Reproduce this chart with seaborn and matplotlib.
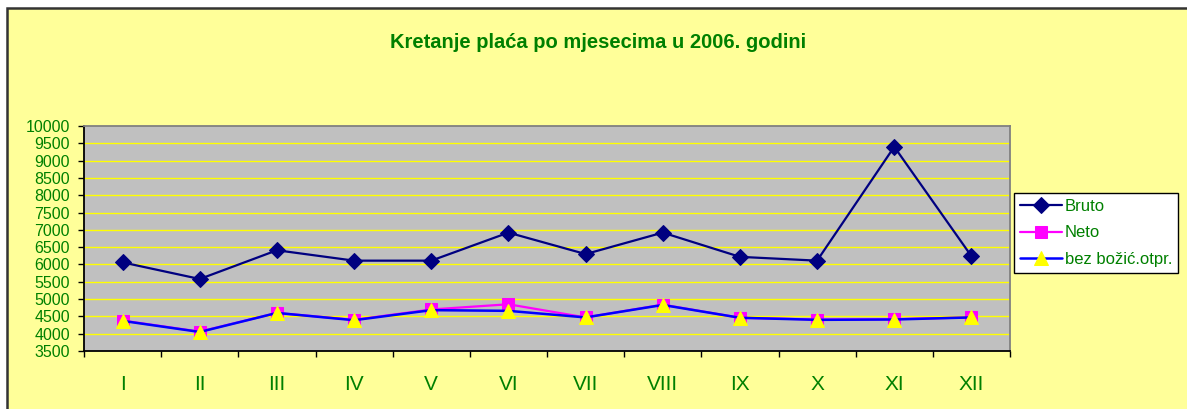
import numpy as np
import matplotlib
matplotlib.use('Agg')
import matplotlib.pyplot as plt
import seaborn as sns
from matplotlib.patches import Rectangle

# Data
months = ['I', 'II', 'III', 'IV', 'V', 'VI', 'VII', 'VIII', 'IX', 'X', 'XI', 'XII']
bruto = [6060, 5580, 6410, 6110, 6110, 6920, 6300, 6920, 6220, 6110, 9400, 6240]
neto = [4380, 4060, 4600, 4400, 4700, 4850, 4470, 4840, 4460, 4410, 4420, 4470]
bez_bozic = [4370, 4050, 4600, 4390, 4680, 4660, 4470, 4830, 4460, 4400, 4410, 4470]
yticks = list(range(3500, 10001, 500))

sns.set_theme(style='white')
plt.rcParams['font.family'] = ['Liberation Sans', 'DejaVu Sans']

green = '#008000'
fig = plt.figure(figsize=(11.87, 4.09), dpi=100, facecolor='white')

# yellow chart area with dark frame on top/left
fig.patches.append(Rectangle((7 / 1187, -0.1), 2, 1 - 8.5 / 409 + 0.1,
                             transform=fig.transFigure, facecolor='#FFFF99',
                             edgecolor='#333333', linewidth=1.8, zorder=-10))

ax = fig.add_axes([84 / 1187, 1 - 351 / 409, (1010 - 84) / 1187, (351 - 126) / 409])
ax.set_zorder(2)
ax.set_facecolor('#C0C0C0')

pos = np.arange(len(months))
sns.lineplot(x=pos, y=bruto, ax=ax, color='#000080', linewidth=1.6, marker='D',
             markersize=8, markerfacecolor='#000080', markeredgecolor='#000080',
             label='Bruto', zorder=3)
sns.lineplot(x=pos, y=neto, ax=ax, color='#FF00FF', linewidth=1.6, marker='s',
             markersize=8.5, markerfacecolor='#FF00FF', markeredgecolor='#FF00FF',
             label='Neto', zorder=3)
sns.lineplot(x=pos, y=bez_bozic, ax=ax, color='#0000FF', linewidth=1.8, marker='^',
             markersize=10, markerfacecolor='#FFFF00', markeredgecolor='#FFFF00',
             label='bez božić.otpr.', zorder=4)

ax.set_xlim(-0.5, len(months) - 0.5)
ax.set_ylim(3500, 10000)
ax.set_yticks(yticks)
ax.set_yticklabels([str(v) for v in yticks])
for v in yticks[1:-1]:
    ax.axhline(v, color='#FFFF00', linewidth=1.0, zorder=1)

ax.set_xticks(np.arange(-0.5, len(months), 1.0))
ax.set_xticklabels([])
ax.set_xticks(pos, minor=True)
ax.set_xticklabels(months, minor=True)
ax.tick_params(axis='x', which='major', direction='out', length=4, width=1,
               color='black', bottom=True)
ax.tick_params(axis='x', which='minor', length=0, pad=17, labelsize=15,
               labelcolor=green, bottom=True)
ax.tick_params(axis='y', direction='out', length=4, width=1, color='black',
               pad=6, labelsize=11.5, labelcolor=green, left=True)
ax.set_xlabel('')
ax.set_ylabel('')

for side in ['left', 'bottom']:
    ax.spines[side].set_color('black')
    ax.spines[side].set_linewidth(1.3)
for side in ['top', 'right']:
    ax.spines[side].set_color('#808080')
    ax.spines[side].set_linewidth(1.3)

fig.text(598 / 1187, 1 - 43 / 409, 'Kretanje plaća po mjesecima u 2006. godini',
         ha='center', va='center', color=green, fontsize=14.5, fontweight='bold')

leg = ax.legend(loc='upper left', bbox_to_anchor=(1014 / 1187, 1 - 193 / 409),
                bbox_transform=fig.transFigure, frameon=True, fancybox=False,
                edgecolor='black', facecolor='white', framealpha=1,
                fontsize=12, handlelength=2.5, handletextpad=0.2,
                labelspacing=0.7, borderpad=0.35, borderaxespad=0)
leg.get_frame().set_linewidth(1.0)
for t in leg.get_texts():
    t.set_color(green)

fig.savefig('out.png', dpi=100, facecolor='white')
